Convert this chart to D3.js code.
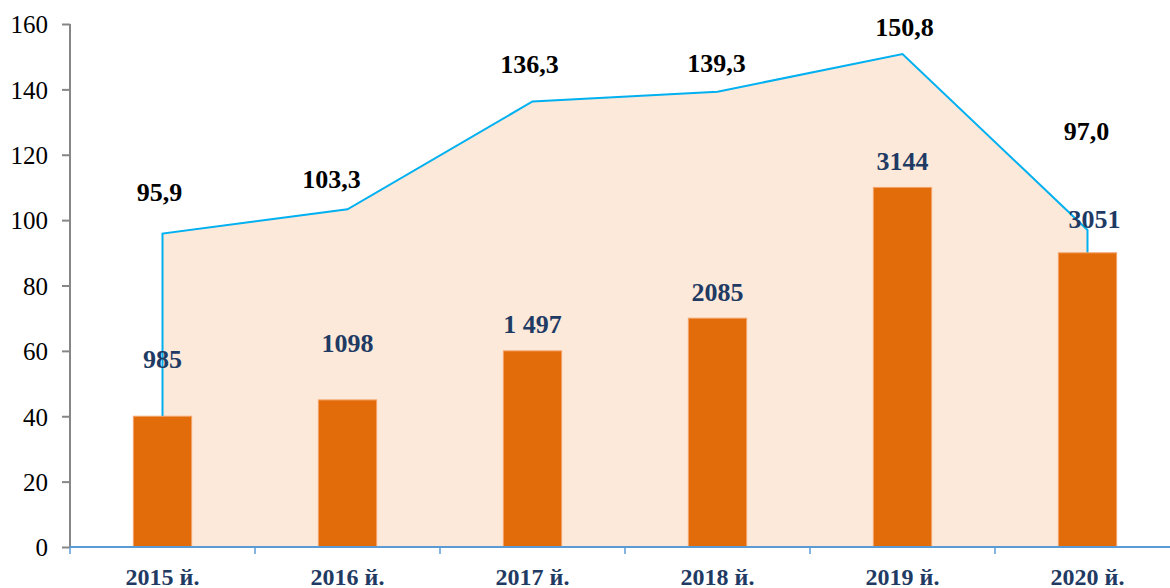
<!DOCTYPE html>
<html>
<head>
<meta charset="utf-8">
<script src="https://cdn.jsdelivr.net/npm/d3@7"></script>
<style>
  body { margin: 0; background: #fff; }
  text { font-family: "Liberation Serif", "Times New Roman", serif; }
</style>
</head>
<body>
<div id="chart"></div>
<script>
var years = ["2015 й.", "2016 й.", "2017 й.", "2018 й.", "2019 й.", "2020 й."];
var growth = [95.9, 103.3, 136.3, 139.3, 150.8, 97.0];
var growthLabels = ["95,9", "103,3", "136,3", "139,3", "150,8", "97,0"];
var barHeights = [40, 45, 60, 70, 110, 90];
var barLabels = ["985", "1098", "1 497", "2085", "3144", "3051"];
var yTicks = [0, 20, 40, 60, 80, 100, 120, 140, 160];

// hand placed label nudges [dx, dy] as in the original
var growthNudge = [[-3, -33], [-16, -21], [-3, -28], [-1, -20], [2, -18], [-1, -90]];
var barNudge = [[0, -48], [0, -48], [0, -18], [0, -17], [0, -17], [7, -25]];

var width = 1170, height = 588;

var svg = d3.select("#chart").append("svg")
    .attr("width", width)
    .attr("height", height);

var x = d3.scaleBand()
    .domain(years)
    .range([70, 70 + 185 * years.length])
    .padding(0);

var y = d3.scaleLinear()
    .domain([0, 160])
    .range([547, 24]);

var cx = function(d, i) { return x(years[i]) + x.bandwidth() / 2; };

// area
var area = d3.area()
    .x(function(d, i) { return cx(d, i); })
    .y0(y(0))
    .y1(function(d) { return y(d); });

svg.append("path")
    .datum(growth)
    .attr("d", area)
    .attr("fill", "#FDE9D9");

// outline (with the vertical edges)
var outline = [[cx(0, 0), y(0)]]
    .concat(growth.map(function(d, i) { return [cx(d, i), y(d)]; }))
    .concat([[cx(0, growth.length - 1), y(0)]]);

svg.append("path")
    .attr("d", d3.line()(outline))
    .attr("fill", "none")
    .attr("stroke", "#00B0F0")
    .attr("stroke-width", 2);

// bars
var barW = x.bandwidth() * 0.315;
svg.selectAll(".bar")
    .data(barHeights)
    .enter().append("rect")
    .attr("class", "bar")
    .attr("x", function(d, i) { return cx(d, i) - barW / 2; })
    .attr("y", function(d) { return y(d); })
    .attr("width", barW)
    .attr("height", function(d) { return y(0) - y(d); })
    .attr("fill", "#E36C0A")
    .attr("stroke", "#F4A36A")
    .attr("stroke-width", 1);

// y axis
var yAxis = svg.append("g")
    .attr("transform", "translate(70,0)")
    .call(d3.axisLeft(y).tickValues(yTicks).tickSize(8).tickPadding(14).tickFormat(d3.format("d")));
yAxis.selectAll("line").attr("stroke", "#868686").attr("stroke-width", 2);
yAxis.select(".domain").attr("stroke", "#868686").attr("stroke-width", 2).attr("d", "M0," + y(160) + "V" + y(0));
yAxis.selectAll("text")
    .attr("fill", "#000")
    .style("font-size", "25px")
    .attr("dy", "0.35em");

// x axis
var xa = svg.append("g");
xa.append("line")
    .attr("x1", 70).attr("x2", width)
    .attr("y1", y(0)).attr("y2", y(0))
    .attr("stroke", "#5B9BD5").attr("stroke-width", 2);
xa.selectAll(".xt")
    .data(years)
    .enter().append("line")
    .attr("x1", function(d) { return x(d); })
    .attr("x2", function(d) { return x(d); })
    .attr("y1", y(0)).attr("y2", y(0) + 7)
    .attr("stroke", "#5B9BD5").attr("stroke-width", 1.5);
xa.selectAll(".xl")
    .data(years)
    .enter().append("text")
    .attr("x", function(d, i) { return cx(d, i); })
    .attr("y", 585)
    .attr("text-anchor", "middle")
    .attr("fill", "#1F3B64")
    .style("font-size", "24px")
    .style("font-weight", "bold")
    .text(function(d) { return d; });

// growth labels
svg.selectAll(".gl")
    .data(growth)
    .enter().append("text")
    .attr("x", function(d, i) { return cx(d, i) + growthNudge[i][0]; })
    .attr("y", function(d, i) { return y(d) + growthNudge[i][1]; })
    .attr("text-anchor", "middle")
    .attr("fill", "#000")
    .style("font-size", "26px")
    .style("font-weight", "bold")
    .text(function(d, i) { return growthLabels[i]; });

// bar labels
svg.selectAll(".bl")
    .data(barHeights)
    .enter().append("text")
    .attr("x", function(d, i) { return cx(d, i) + barNudge[i][0]; })
    .attr("y", function(d, i) { return y(d) + barNudge[i][1]; })
    .attr("text-anchor", "middle")
    .attr("fill", "#1F3B64")
    .style("font-size", "26px")
    .style("font-weight", "bold")
    .text(function(d, i) { return barLabels[i]; });
</script>
</body>
</html>
